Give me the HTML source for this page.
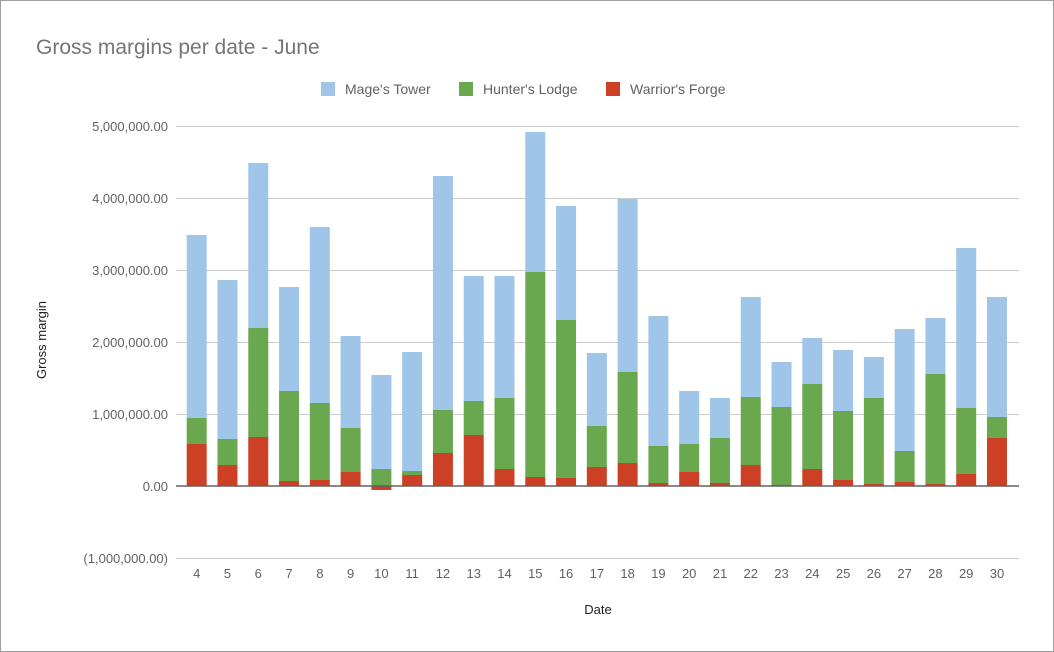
<!DOCTYPE html>
<html><head><meta charset="utf-8"><style>
body{margin:0;background:#fff;}
svg{display:block;font-family:"Liberation Sans",Arial,sans-serif;}
</style></head><body>
<svg id="c" width="1054" height="652" xmlns="http://www.w3.org/2000/svg">
<rect x="0.5" y="0.5" width="1053" height="651" fill="#fff" stroke="#9e9e9e"/>
<text x="36" y="54" font-size="21" fill="#757575">Gross margins per date - June</text>
<rect x="321" y="82" width="14" height="14" fill="#9fc5e8"/>
<text x="345" y="94" font-size="14" fill="#616161">Mage's Tower</text>
<rect x="459" y="82" width="14" height="14" fill="#6aa84f"/>
<text x="483" y="94" font-size="14" fill="#616161">Hunter's Lodge</text>
<rect x="606" y="82" width="14" height="14" fill="#cc4125"/>
<text x="630" y="94" font-size="14" fill="#616161">Warrior's Forge</text>
<g id="grid" stroke="#cccccc" stroke-width="1"></g>
<g id="ylab" font-size="13" fill="#616161" text-anchor="end"></g>
<g id="bars"></g>
<line x1="176" y1="486" x2="1019" y2="486" stroke="#616161" stroke-width="1.5"/>
<g id="xlab" font-size="13" fill="#616161" text-anchor="middle"></g>
<text x="598" y="614" font-size="13" fill="#222" text-anchor="middle">Date</text>
<text transform="translate(46,340) rotate(-90)" font-size="13" fill="#222" text-anchor="middle">Gross margin</text>
</svg>
<script>
var ns="http://www.w3.org/2000/svg";
function el(p,t,a,txt){var e=document.createElementNS(ns,t);for(var k in a)e.setAttribute(k,a[k]);if(txt)e.textContent=txt;document.getElementById(p).appendChild(e);}
var labs=["5,000,000.00","4,000,000.00","3,000,000.00","2,000,000.00","1,000,000.00","0.00","(1,000,000.00)"];
for(var i=0;i<7;i++){var y=126+72*i;if(i!=5)el("grid","line",{x1:176,x2:1019,y1:y+0.5,y2:y+0.5});el("ylab","text",{x:168,y:y+5},labs[i]);}
var d=[[444,418,235],[465,439,280],[437,328,163],[481,391,287],[480,403,227],[472,428,336],[490,469,375],[475,471,352],[453,410,176],[435,401,276],[469,398,276],[477,272,132],[478,320,206],[467,426,353],[463,372,199],[483,446,316],[472,444,391],[483,438,398],[465,397,297],[485,407,362],[469,384,338],[480,411,350],[484,398,357],[482,451,329],[484,374,318],[474,408,248],[438,417,297]];
for(var i=0;i<d.length;i++){var cx=196.7+30.78*i,x=cx-10,r=d[i][0],g=d[i][1],b=d[i][2];
el("bars","rect",{x:x,y:b,width:20,height:g-b,fill:"#9fc5e8"});
if(r>486){el("bars","rect",{x:x,y:g,width:20,height:486-g,fill:"#6aa84f"});el("bars","rect",{x:x,y:486,width:20,height:r-486,fill:"#cc4125"});}
else{el("bars","rect",{x:x,y:g,width:20,height:r-g,fill:"#6aa84f"});el("bars","rect",{x:x,y:r,width:20,height:486-r,fill:"#cc4125"});}
el("xlab","text",{x:cx,y:578},String(i+4));}
</script>
</body></html>
